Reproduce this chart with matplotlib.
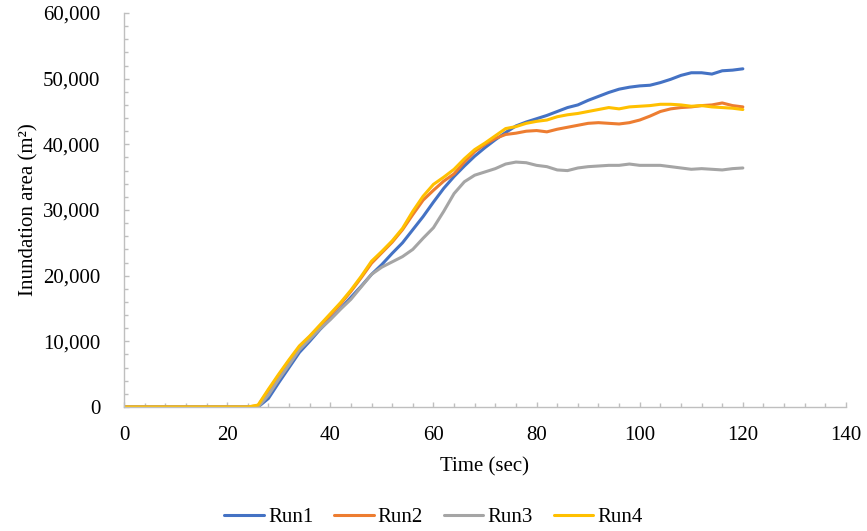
import matplotlib.pyplot as plt
from matplotlib.ticker import MultipleLocator, FuncFormatter

# time in seconds, sampled every 2 s
time = list(range(0, 122, 2))

run1 = [0] * 14 + [
    1300, 3700, 6000, 8300, 10000, 11800, 13400, 15000, 16700, 18400,
    20200, 21700, 23400, 25000, 27000, 29000, 31200, 33300, 35100, 36700,
    38200, 39500, 40700, 41800, 42800, 43400, 43900, 44400, 45000, 45600,
    46000, 46700, 47300, 47900, 48400, 48700, 48900, 49000, 49400, 49900,
    50500, 50900, 50900, 50700, 51200, 51300, 51500]
run2 = [0] * 13 + [
    200, 2500, 4800, 7000, 9100, 10700, 12300, 14000, 15700, 17600, 19700,
    21900, 23500, 25100, 27000, 29300, 31500, 33000, 34400, 35500, 37300,
    38900, 40000, 40900, 41500, 41700, 42000, 42100, 41900, 42300, 42600,
    42900, 43200, 43300, 43200, 43100, 43300, 43700, 44300, 45000, 45400,
    45600, 45700, 45900, 46000, 46300, 45900, 45700]
run3 = [0] * 14 + [
    1800, 4200, 6400, 8700, 10300, 11900, 13300, 14900, 16400, 18300,
    20200, 21300, 22100, 22900, 24000, 25700, 27300, 29800, 32500, 34300,
    35300, 35800, 36300, 37000, 37300, 37200, 36800, 36600, 36100, 36000,
    36400, 36600, 36700, 36800, 36800, 37000, 36800, 36800, 36800, 36600,
    36400, 36200, 36300, 36200, 36100, 36300, 36400]
run4 = [0] * 13 + [
    300, 2700, 5000, 7200, 9300, 10800, 12500, 14200, 15900, 17800, 19900,
    22200, 23700, 25300, 27200, 29800, 32100, 33900, 35000, 36200, 37800,
    39200, 40200, 41300, 42400, 42700, 43200, 43500, 43700, 44200, 44500,
    44700, 45000, 45300, 45600, 45400, 45700, 45800, 45900, 46100, 46100,
    46000, 45800, 45900, 45700, 45600, 45500, 45300]

series = [("Run1", run1, "#4472C4"), ("Run2", run2, "#ED7D31"),
          ("Run3", run3, "#A5A5A5"), ("Run4", run4, "#FFC000")]

plt.rcParams['font.family'] = ['Liberation Serif', 'DejaVu Serif']

fig = plt.figure(figsize=(8.67, 5.31), dpi=100)
ax = fig.add_axes([124 / 867, 124 / 531, 722 / 867, 394 / 531])

for name, vals, color in series:
    ax.plot(time, vals, color=color, lw=2.2, label=name, solid_capstyle='round')

ax.set_xlim(0, 140)
ax.set_ylim(0, 60000)
ax.xaxis.set_major_locator(MultipleLocator(20))
ax.xaxis.set_minor_locator(MultipleLocator(4))
ax.yaxis.set_major_locator(MultipleLocator(10000))
ax.yaxis.set_minor_locator(MultipleLocator(2000))
ax.yaxis.set_major_formatter(FuncFormatter(lambda v, p: f"{v:,.0f}"))

for s in ['top', 'right']:
    ax.spines[s].set_visible(False)
for s in ['left', 'bottom']:
    ax.spines[s].set_color('#BFBFBF')
    ax.spines[s].set_linewidth(1.0)

ax.tick_params(which='both', direction='in', color='#BFBFBF', labelsize=15)
ax.tick_params(which='major', length=3.6, width=1.0)
ax.tick_params(which='minor', length=2.9, width=1.0)
ax.tick_params(axis='x', pad=14)
ax.tick_params(axis='y', pad=17)

ax.set_xlabel("Time (sec)", fontsize=15)
ax.set_ylabel("Inundation area (m²)", fontsize=15)
ax.xaxis.set_label_coords(0.5, -0.128)
ax.yaxis.set_label_coords(-0.119, 0.5)

fig.legend(loc='center', bbox_to_anchor=(0.5, 1 - 517 / 531), ncol=4,
           frameon=False, fontsize=15, handlelength=1.9, handletextpad=0.2,
           columnspacing=1.0)

fig.savefig("out.png", dpi=100)
